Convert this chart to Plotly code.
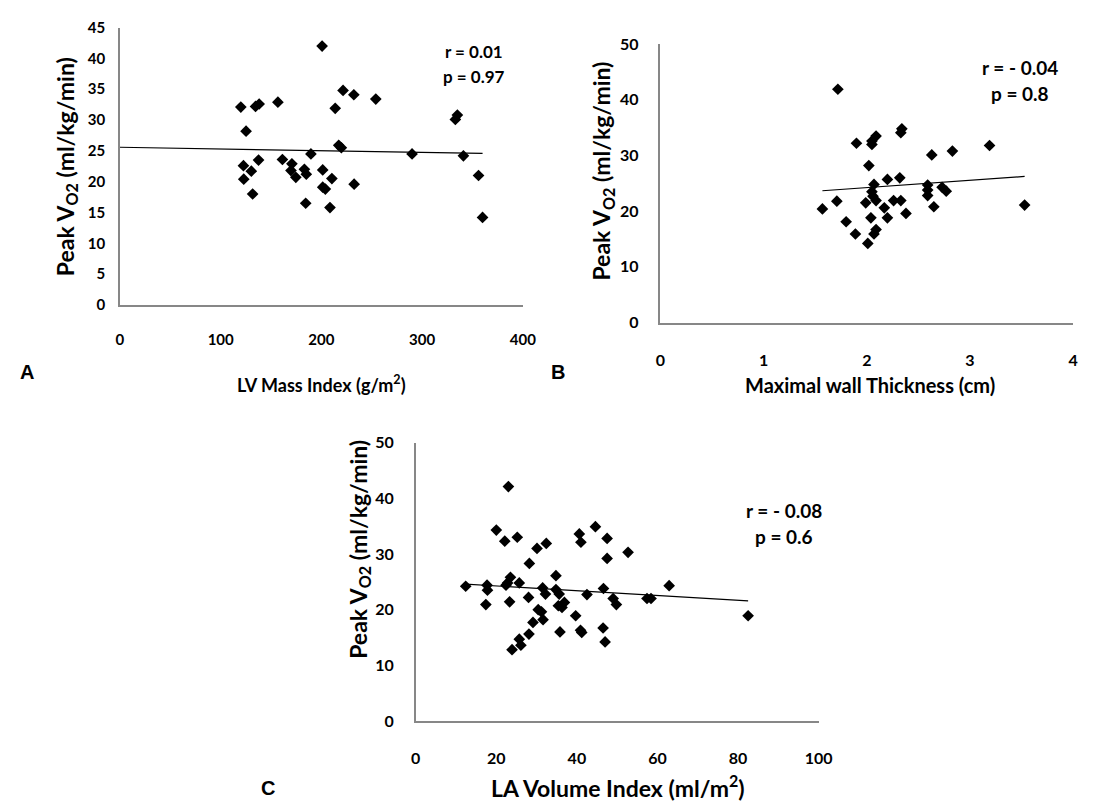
import numpy as np
import plotly.graph_objects as go

# Panel A: LV mass index (g/m2) vs peak VO2
lvmi = [200.7, 221.5, 213.7, 120, 134.6, 138.2, 156.8, 125.2, 217.2, 219.8,
        189.6, 137.6, 161.3, 122.6, 170.7, 130.4, 169.8, 183.1, 185, 174.6,
        201.3, 210.4, 122.9, 201.3, 203.9, 131.7, 184.4, 208.5, 232.5, 232.2,
        254, 290, 333, 335, 341, 356, 360]
vo2_a = [42.0, 34.8, 31.9, 32.1, 32.2, 32.6, 32.9, 28.2, 25.9, 25.5,
         24.5, 23.5, 23.6, 22.6, 22.9, 21.7, 21.8, 22.0, 21.2, 20.7,
         21.9, 20.5, 20.4, 19.1, 18.8, 18.0, 16.5, 15.8, 19.6, 34.1,
         33.4, 24.5, 30.1, 30.8, 24.2, 21.0, 14.2]

# Panel B: maximal wall thickness (cm) vs peak VO2
mwt = [1.72, 2.34, 2.33, 2.09, 2.05, 2.05, 1.90, 3.19, 2.83, 2.63,
       2.02, 2.20, 2.32, 2.07, 2.59, 2.59, 2.59, 2.73, 2.77, 2.05,
       2.06, 2.09, 1.99, 2.26, 2.33, 2.17, 2.65, 1.71, 1.57, 3.53,
       2.38, 2.04, 2.20, 1.80, 2.09, 2.07, 1.89, 2.01]
vo2_b = [41.9, 34.8, 34.1, 33.5, 32.6, 32.0, 32.2, 31.8, 30.8, 30.1,
         28.2, 25.7, 26.0, 24.8, 24.7, 23.8, 22.8, 24.3, 23.6, 23.5,
         22.7, 21.9, 21.5, 21.9, 21.9, 20.6, 20.8, 21.8, 20.4, 21.1,
         19.6, 18.8, 18.8, 18.1, 16.7, 15.9, 15.9, 14.2]

# Panel C: LA volume index (ml/m2) vs peak VO2
lavi = [23.0, 20.0, 22.1, 25.2, 30.1, 32.4, 28.2, 40.6, 41.0, 44.6,
        47.5, 47.5, 52.7, 12.4, 17.7, 17.8, 23.5, 22.8, 22.4, 25.7,
        34.8, 31.5, 32.2, 34.8, 35.6, 42.5, 46.6, 49.0, 49.8, 57.4,
        58.4, 62.9, 82.5, 17.4, 23.3, 28.0, 30.4, 31.2, 35.4, 36.3,
        36.9, 39.7, 29.1, 31.6, 28.1, 25.7, 26.1, 23.9, 35.8, 40.9,
        41.2, 46.5, 47.0]
vo2_c = [42.1, 34.3, 32.3, 33.0, 31.0, 31.9, 28.3, 33.6, 32.1, 34.9,
         32.8, 29.2, 30.3, 24.2, 24.4, 23.5, 25.8, 24.8, 24.4, 24.8,
         26.1, 23.9, 22.8, 23.6, 22.8, 22.7, 23.8, 22.0, 20.9, 22.0,
         22.0, 24.3, 18.9, 20.9, 21.4, 22.2, 20.0, 19.6, 20.7, 20.4,
         21.3, 18.9, 17.7, 18.2, 15.6, 14.7, 13.6, 12.8, 16.0, 16.3,
         15.9, 16.7, 14.2]

stats_a = ["r = 0.01", "p = 0.97"]
stats_b = ["r = - 0.04", "p = 0.8"]
stats_c = ["r = - 0.08", "p = 0.6"]

W, H = 1094, 812
FONT = "Lato"
AXIS_GRAY = "#878787"


def px(x):
    return x / W


def py(y):
    return 1 - y / H


def bold(size):
    return dict(family=FONT, size=size, color="black", weight="bold")


fig = go.Figure()

panels = [
    # (x data, y data, xaxis id, yaxis id, trend starts at zero)
    (lvmi, vo2_a, "x", "y", True),
    (mwt, vo2_b, "x2", "y2", False),
    (lavi, vo2_c, "x3", "y3", False),
]

for xs, ys, xa, ya, from_zero in panels:
    fig.add_trace(go.Scatter(
        x=xs, y=ys, mode="markers", xaxis=xa, yaxis=ya,
        marker=dict(symbol="diamond", size=9, color="black",
                    line=dict(width=0)),
        showlegend=False, hoverinfo="skip"))
    slope, intercept = np.polyfit(xs, ys, 1)
    x0 = 0 if from_zero else min(xs)
    x1 = max(xs)
    fig.add_trace(go.Scatter(
        x=[x0, x1], y=[intercept + slope * x0, intercept + slope * x1],
        mode="lines", xaxis=xa, yaxis=ya,
        line=dict(color="black", width=1.2),
        showlegend=False, hoverinfo="skip"))


def axis(domain, rng, dtick, anchor, standoff, size):
    return dict(domain=domain, range=rng, dtick=dtick, tick0=0,
                anchor=anchor, showline=True, linecolor=AXIS_GRAY,
                linewidth=1.5, showgrid=False, zeroline=False, ticks="",
                tickfont=bold(size), ticklabelstandoff=standoff,
                fixedrange=True)


fig.update_layout(
    width=W, height=H,
    margin=dict(l=0, r=0, t=0, b=0),
    paper_bgcolor="white", plot_bgcolor="white",
    xaxis=axis([px(117), px(527)], [0, 400], 100, "y", 20, 15),
    yaxis=axis([py(302), py(18)], [0, 45], 5, "x", 10, 15),
    xaxis2=axis([px(667), px(1087)], [0, 4], 1, "y2", 23, 16),
    yaxis2=axis([py(320), py(35)], [0, 50], 10, "x2", 17, 16),
    xaxis3=axis([px(418), px(828)], [0, 100], 20, "y3", 22, 16),
    yaxis3=axis([py(728), py(443)], [0, 50], 10, "x3", 17, 16),
)

ytitle = "Peak V<sub>O2</sub> (ml/kg/min)"

annotations = [
    # axis titles
    dict(x=px(322), y=py(383), text="LV Mass Index (g/m<sup>2</sup>)", font=bold(18)),
    dict(x=px(62), y=py(160), text=ytitle, textangle=-90, font=bold(23)),
    dict(x=px(880), y=py(384), text="Maximal wall Thickness (cm)", font=bold(20)),
    dict(x=px(608), y=py(165), text=ytitle, textangle=-90, font=bold(23)),
    dict(x=px(624), y=py(795), text="LA Volume Index (ml/m<sup>2</sup>)", font=bold(23)),
    dict(x=px(360), y=py(552), text=ytitle, textangle=-90, font=bold(23)),
    # correlation statistics
    dict(x=px(477), y=py(42), text=stats_a[0], font=bold(17)),
    dict(x=px(477), y=py(68), text=stats_a[1], font=bold(17)),
    dict(x=px(1033), y=py(59), text=stats_b[0], font=bold(19)),
    dict(x=px(1033), y=py(85), text=stats_b[1], font=bold(19)),
    dict(x=px(793), y=py(513), text=stats_c[0], font=bold(19)),
    dict(x=px(793), y=py(539), text=stats_c[1], font=bold(19)),
    # panel letters
    dict(x=px(22), y=py(371), text="A", font=dict(family="Liberation Sans", size=20,
                                                  color="black", weight="bold")),
    dict(x=px(563), y=py(371), text="B", font=dict(family="Liberation Sans", size=20,
                                                   color="black", weight="bold")),
    dict(x=px(268), y=py(797), text="C", font=dict(family="Liberation Sans", size=20,
                                                   color="black", weight="bold")),
]
for a in annotations:
    a.update(xref="paper", yref="paper", showarrow=False,
             xanchor="center", yanchor="middle")
fig.update_layout(annotations=annotations)

fig.write_html("out.html")
